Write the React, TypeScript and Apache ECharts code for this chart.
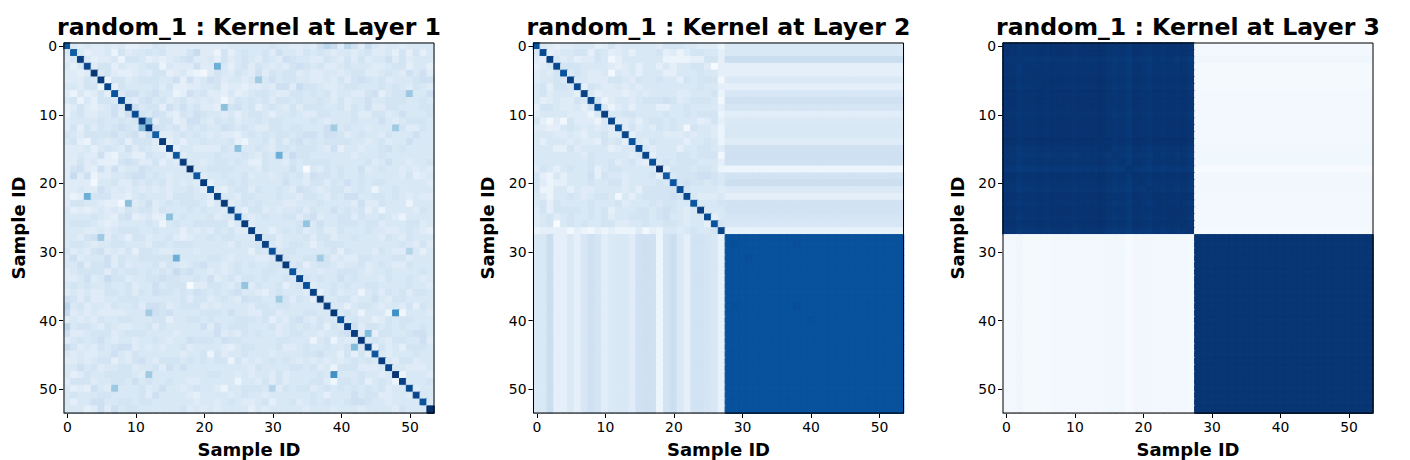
import React, { useEffect, useRef } from "react";
import * as echarts from "echarts";

const FONT = "DejaVu Sans";
const N = 54;
const categories = Array.from({ length: N }, (_, i) => String(i));
const titles = ["random_1 : Kernel at Layer 1", "random_1 : Kernel at Layer 2", "random_1 : Kernel at Layer 3"];
const blues = ["#f7fbff", "#deebf7", "#c6dbef", "#9ecae1", "#6baed6", "#4292c6", "#2171b5", "#08519c", "#08306b"];

// Layer 1: upper triangle above the diagonal, one digit per cell (digit x 0.03)
const layer1Rows = [
  "54544545334465444444444555555655445474844748545545555",
  "5344526455656444684426356556475546565455456445363635",
  "534452665343456744536456546547655446546464557464555",
  "46635445662544474435356465454676564456555445663553",
  "5643345466345321465465474656645445545664456547574",
  "266456665573745764554585756655445464676564555677",
  "36555564633445563443445477486654456655565654654",
  "5775675523756443534566544665656455446735665557",
  "546756456454541465656466565565464557556665565",
  "75663757564434675635654646665564657446655566",
  "6576436576554535665355654466555644664575556",
  "546634775465645565665555654555655575456665",
  "76564656557656544665665557456554555564465",
  "4456565454435656566567757764565546555755",
  "353556555632556464675656666554564557555",
  "35544446545565466566654735545567565555",
  "4555565556546555866555555455565555555",
  "554566565336554656666555556457554556",
  "55666655546555756546565574565545454",
  "4556556455456564766565565555546345",
  "355656555557554664657565665555554",
  "43566465565476545664565255655555",
  "5546655565546654657755665654544",
  "456565554455565555474465552555",
  "53664545564655756563525555465",
  "5456556646745566465565425555",
  "455555566575566656645556645",
  "55356564564465556554456543",
  "6645556466455655546546555",
  "545665356665555555565464",
  "56655555636555465446535",
  "6556666454466555664555",
  "563566545564565446555",
  "55545566654556555565",
  "6565575655546556545",
  "455656556655556554",
  "35645525646564665",
  "5566455754665555",
  "553566545546365",
  "56525552565554",
  "5655346566555",
  "746656565565",
  "45366556775",
  "5654665574",
  "364536665",
  "54555655",
  "5466455",
  "554445",
  "25554",
  "5556",
  "455",
  "55",
  "5",
];
const layer1Diag = [
  0.85, 0.83, 0.95, 0.92, 0.98, 0.95, 0.92, 0.87, 0.9, 0.95, 0.9, 0.96, 0.95, 0.83, 0.96, 0.94, 0.86, 0.96, 1, 0.85, 0.96, 0.88, 0.94, 0.97, 0.92, 0.87,
  0.96, 0.95, 0.92, 0.94, 0.88, 0.95, 0.96, 0.86, 0.92, 0.88, 0.94, 0.98, 0.95, 0.97, 0.88, 0.95, 0.95, 0.97, 0.92, 0.86, 0.95, 0.92, 0.98, 0.94, 0.9, 0.92, 0.87, 1,
];
// [row, col, value]
const layer1Peaks = [
  [3, 22, 0.5], [9, 23, 0.42], [5, 28, 0.37], [7, 50, 0.38], [11, 12, 0.43], [12, 39, 0.36], [12, 48, 0.37],
  [15, 25, 0.42], [16, 31, 0.5], [26, 35, 0.4], [31, 37, 0.37], [39, 48, 0.63], [42, 44, 0.44],
  [0, 38, 0.28], [0, 41, 0.28], [30, 50, 0.3], [18, 35, 0.0], [39, 49, 0.04],
];

// Layer 2: block of first 28 samples, upper triangle above the diagonal
const layer2Rows = [
  "543445553464555554666554442",
  "34556636534535556342466553",
  "5453446513555555222233663",
  "666555543453553535566403",
  "56544515453555335556553",
  "5544466546556553656661",
  "365445454555555556553",
  "53444345455554455562",
  "6245545666764566651",
  "524535553355655553",
  "55665555655656662",
  "4453566565553463",
  "464546565165542",
  "35555444545542",
  "5465555355652",
  "545553556654",
  "35556656661",
  "5656665553",
  "366656652",
  "56667765",
  "6766565",
  "655554",
  "54445",
  "5556",
  "555",
  "35",
  "6",
];
const layer2Diag = [
  0.88, 0.9, 0.94, 0.91, 0.87, 0.94, 0.9, 0.94, 0.9, 0.88, 0.94, 0.92, 0.87, 0.92, 0.87, 0.9, 0.92, 0.89, 1, 0.84, 0.86, 0.89, 0.91, 0.86, 0.94, 0.9, 0.87, 0.92,
];
const layer2Stripes = [
  0.15, 0.15, 0.23, 0.09, 0.09, 0.14, 0.09, 0.16, 0.2, 0.17, 0.11, 0.14, 0.15, 0.15, 0.12, 0.2, 0.21, 0.2, 0.05, 0.19, 0.22, 0.14, 0.09, 0.19, 0.19, 0.17, 0.16, 0.08,
];
const layer2BlockRows = [
  0.875, 0.875, 0.875, 0.875, 0.875, 0.875, 0.875, 0.875, 0.875, 0.875, 0.875, 0.875, 0.875, 0.875, 0.875, 0.875, 0.875, 0.875, 0.875, 0.875, 0.875, 0.875, 0.875, 0.875, 0.875, 0.875,
];
const layer2Spots = [
  [29, 29, 0.885], [31, 31, 0.885], [29, 38, 0.885], [38, 29, 0.885], [38, 38, 0.885], [40, 40, 0.885],
];

// Layer 3: dark block, upper triangle, one digit per cell (1 - digit x 0.006)
const layer3Rows = [
  "243323222322213435234232324",
  "43323222322213435234232324",
  "5545444544435657456454546",
  "434333433324546345343435",
  "34333433324546345343435",
  "3222322213435234232324",
  "333433324546345343435",
  "22322213435234232324",
  "2322213435234232324",
  "322213435234232324",
  "33324546345343435",
  "2213435234232324",
  "213435234232324",
  "13435234232324",
  "2324123121213",
  "546345343435",
  "57456454546",
  "6345343435",
  "567565657",
  "34232324",
  "5343435",
  "454546",
  "32324",
  "3435",
  "324",
  "35",
  "4",
];
const layer3Diag = [
  0.984, 0.984, 0.982, 0.986, 0.986, 0.986, 0.984, 0.988, 0.986, 0.986, 0.986, 0.988, 0.988, 0.99, 0.99, 0.986, 0.982, 0.984, 0.976, 0.99, 0.984, 0.98, 0.99, 0.986, 0.99, 0.986, 0.99, 0.98,
];
const layer3Stripes = [
  0.02, 0.02, 0.04, 0.015, 0.015, 0.015, 0.015, 0.02, 0.025, 0.025, 0.02, 0.02, 0.02, 0.025, 0.025, 0.035, 0.035, 0.035, 0.005, 0.03, 0.03, 0.03, 0.02, 0.025, 0.025, 0.02, 0.02, 0.015,
];
const layer3BlockRows = [
  0.98, 0.98, 0.98, 0.98, 0.98, 0.98, 0.98, 0.98, 0.98, 0.98, 0.98, 0.98, 0.98, 0.98, 0.98, 0.98, 0.98, 0.98, 0.98, 0.98, 0.98, 0.98, 0.98, 0.98, 0.98, 0.98,
];

const tickLabels = [0, 10, 20, 30, 40, 50];

type Cell = { value: [number, number, number]; itemStyle: { borderColor: string; borderWidth: number } };

function emptyMatrix(): number[][] {
  return Array.from({ length: N }, () => new Array(N).fill(0.15));
}

function fillTriangle(m: number[][], rows: string[], diag: (i: number) => number, val: (d: number) => number) {
  rows.forEach((s, r) => {
    m[r][r] = diag(r);
    for (let k = 0; k < s.length; k++) {
      const c = r + 1 + k;
      if (c >= N) break;
      const v = val(Number(s[k]));
      m[r][c] = v;
      m[c][r] = v;
    }
  });
}

function toCells(m: number[][]): Cell[] {
  const out: Cell[] = [];
  m.forEach((row, r) =>
    row.forEach((v, c) =>
      out.push({
        value: [c, r, v],
        itemStyle: { borderColor: echarts.color.lerp(v, blues) as string, borderWidth: 1 },
      })
    )
  );
  return out;
}

function buildLayer1(): Cell[] {
  const m = emptyMatrix();
  fillTriangle(m, layer1Rows, (i) => layer1Diag[i], (d) => d * 0.03);
  m[N - 1][N - 1] = layer1Diag[N - 1];
  layer1Peaks.forEach(([r, c, v]) => {
    m[r][c] = v;
    m[c][r] = v;
  });
  return toCells(m);
}

function buildLayer2(): Cell[] {
  const m = emptyMatrix();
  fillTriangle(m, layer2Rows, (i) => layer2Diag[i], (d) => d * 0.03);
  m[27][27] = layer2Diag[27];
  layer2Stripes.forEach((v, r) => {
    for (let c = 28; c < N; c++) {
      m[r][c] = v;
      m[c][r] = v;
    }
  });
  layer2BlockRows.forEach((v, i) => {
    for (let c = 28; c < N; c++) m[28 + i][c] = v;
  });
  layer2Spots.forEach(([r, c, v]) => (m[r][c] = v));
  return toCells(m);
}

function buildLayer3(): Cell[] {
  const m = emptyMatrix();
  fillTriangle(m, layer3Rows, (i) => layer3Diag[i], (d) => 1 - d * 0.006);
  m[27][27] = layer3Diag[27];
  layer3Stripes.forEach((v, r) => {
    for (let c = 28; c < N; c++) {
      m[r][c] = v;
      m[c][r] = v;
    }
  });
  layer3BlockRows.forEach((v, i) => {
    for (let c = 28; c < N; c++) m[28 + i][c] = v;
  });
  return toCells(m);
}

const panelLefts = [64, 533.5, 1003];
const panelTop = 43;
const panelSize = 370;

export default function App() {
  const ref = useRef<HTMLDivElement>(null);
  useEffect(() => {
    const chart = echarts.init(ref.current!, undefined, { renderer: "svg" });
    const datasets = [buildLayer1(), buildLayer2(), buildLayer3()];
    const showTick = (i: number) => tickLabels.includes(i);
    const axisBase = (index: number) => ({
      type: "category" as const,
      data: categories,
      gridIndex: index,
      nameLocation: "middle" as const,
      name: "Sample ID",
      nameTextStyle: { fontFamily: FONT, fontWeight: "bold" as const, fontSize: 18, color: "#000" },
      axisLine: { show: true, lineStyle: { color: "#000", width: 1 } },
      axisTick: { show: true, alignWithLabel: true, interval: showTick, length: 5, lineStyle: { color: "#000", width: 1 } },
      axisLabel: { show: true, interval: showTick, fontFamily: FONT, fontSize: 13.9, color: "#000", margin: 7 },
      splitLine: { show: false },
      splitArea: { show: false },
    });
    chart.setOption({
      animation: false,
      backgroundColor: "#fff",
      title: titles.map((t, i) => ({
        text: t,
        left: panelLefts[i] + panelSize / 2 - 5,
        top: 10,
        textAlign: "center",
        textStyle: { fontFamily: FONT, fontWeight: "bold", fontSize: 23.6, color: "#000" },
      })),
      grid: panelLefts.map((l) => ({
        left: l,
        top: panelTop,
        width: panelSize,
        height: panelSize,
        containLabel: false,
        outerBoundsMode: "none",
      })),
      xAxis: panelLefts.map((_, i) => ({ ...axisBase(i), nameGap: 27 })),
      yAxis: panelLefts.map((_, i) => ({ ...axisBase(i), inverse: true, nameGap: 37 })),
      visualMap: {
        show: false,
        min: 0,
        max: 1,
        dimension: 2,
        seriesIndex: [0, 1, 2],
        inRange: { color: blues },
      },
      series: datasets.map((data, i) => ({
        type: "heatmap",
        xAxisIndex: i,
        yAxisIndex: i,
        data,
        emphasis: { disabled: true },
        progressive: 0,
      })),
      graphic: panelLefts.map((l) => ({
        type: "rect",
        z: 100,
        silent: true,
        shape: { x: l, y: panelTop, width: panelSize, height: panelSize },
        style: { fill: "none", stroke: "#000", lineWidth: 1 },
      })),
    });
    return () => chart.dispose();
  }, []);
  return <div ref={ref} style={{ position: "absolute", left: 0, top: 0, width: 1410, height: 460 }} />;
}
